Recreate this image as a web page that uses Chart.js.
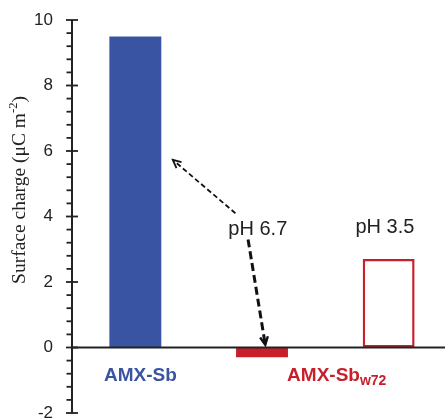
<!DOCTYPE html>
<html>
<head>
<meta charset="utf-8">
<script src="https://cdn.jsdelivr.net/npm/chart.js"></script>
<style>
html,body{margin:0;padding:0;background:#fff;overflow:hidden;}
#wrap{width:445px;height:419px;overflow:hidden;}
</style>
</head>
<body>
<div id="wrap"><canvas id="c" width="452" height="419"></canvas></div>
<script>
// ---- data ----
const categories = ['AMX-Sb', 'AMX-Sb_w72 (pH 6.7)', 'AMX-Sb_w72 (pH 3.5)'];
const values = [9.5, -0.3, 2.7];
const yTickValues = [-2, 0, 2, 4, 6, 8, 10];
const yMin = -2, yMax = 10, yStep = 2, yMinorStep = 0.4;
const yTitle = ['Surface charge (\u03bcC m', '-2', ')'];
const groupLabels = [
  {text: 'AMX-Sb', sub: '', at: 0.04},
  {text: 'AMX-Sb', sub: 'w72', at: 1.59}
];
const phLabels = [
  {text: 'pH 6.7', x: 0.967, y: 3.6},
  {text: 'pH 3.5', x: 1.97, y: 3.65}
];
// arrows: [x0, y0, x1, y1] in (category index, value) space
const arrows = [
  {from: [0.79, 4.1], to: [0.296, 5.73], w: 1.8, dash: [5, 3]},
  {from: [0.89, 3.3], to: [1.026, 0.08], w: 3, dash: [8, 4]}
];

const BLUE = '#3a54a4', RED = '#c8202b', INK = '#222';

const overlay = {
  id: 'overlay',
  afterDatasetsDraw(chart) {
    const ctx = chart.ctx, ya = chart.scales.y, xa = chart.scales.x;
    const ca = chart.chartArea;
    const axX = ca.left;
    ctx.save();
    // zero line
    const y0 = ya.getPixelForValue(0);
    ctx.strokeStyle = INK; ctx.lineWidth = 2;
    ctx.beginPath(); ctx.moveTo(axX, y0); ctx.lineTo(chart.width, y0); ctx.stroke();
    // y axis line
    ctx.beginPath(); ctx.moveTo(axX, ya.getPixelForValue(yMax)); ctx.lineTo(axX, ya.getPixelForValue(yMin)); ctx.stroke();
    // ticks
    ctx.lineWidth = 1.8;
    const n = Math.round((yMax - yMin) / yMinorStep);
    for (let i = 0; i <= n; i++) {
      const v = yMin + i * yMinorStep;
      const p = ya.getPixelForValue(v);
      const major = Math.abs(v / yStep - Math.round(v / yStep)) < 1e-6;
      ctx.beginPath();
      if (major) { ctx.moveTo(axX - 6, p); ctx.lineTo(axX + 6, p); }
      else { ctx.moveTo(axX - 5.5, p); ctx.lineTo(axX, p); }
      ctx.stroke();
    }
    // y title
    ctx.save();
    ctx.translate(20, 190);
    ctx.rotate(-Math.PI / 2);
    ctx.fillStyle = INK;
    ctx.textBaseline = 'middle';
    const f1 = '19.5px "Liberation Serif", "Times New Roman", serif';
    const f2 = '12.5px "Liberation Serif", "Times New Roman", serif';
    ctx.font = f1; const w1 = ctx.measureText(yTitle[0]).width;
    ctx.font = f2; const w2 = ctx.measureText(yTitle[1]).width;
    ctx.font = f1; const w3 = ctx.measureText(yTitle[2]).width;
    let sx = -(w1 + w2 + w3) / 2;
    ctx.textAlign = 'left';
    ctx.font = f1; ctx.fillText(yTitle[0], sx, 0);
    ctx.font = f2; ctx.fillText(yTitle[1], sx + w1, -6);
    ctx.font = f1; ctx.fillText(yTitle[2], sx + w1 + w2, 0);
    ctx.restore();
    // group labels
    const gy = y0 + 28;
    groupLabels.forEach((g, i) => {
      const cx = xa.getPixelForValue(g.at);
      const fm = 'bold 19px "Liberation Sans", Arial, sans-serif';
      const fs = 'bold 14px "Liberation Sans", Arial, sans-serif';
      ctx.font = fm; const wm = ctx.measureText(g.text).width;
      ctx.font = fs; const ws = g.sub ? ctx.measureText(g.sub).width : 0;
      const left = cx - (wm + ws) / 2;
      ctx.fillStyle = i === 0 ? BLUE : RED;
      ctx.textAlign = 'left'; ctx.textBaseline = 'middle';
      ctx.font = fm; ctx.fillText(g.text, left, gy);
      if (g.sub) { ctx.font = fs; ctx.fillText(g.sub, left + wm, gy + 6); }
    });
    // pH labels
    ctx.fillStyle = INK;
    ctx.font = '20px "Liberation Sans", Arial, sans-serif';
    ctx.textAlign = 'center'; ctx.textBaseline = 'middle';
    phLabels.forEach(l => ctx.fillText(l.text, xa.getPixelForValue(l.x), ya.getPixelForValue(l.y)));
    // arrows
    ctx.strokeStyle = '#111';
    arrows.forEach(a => {
      const x0 = xa.getPixelForValue(a.from[0]), yy0 = ya.getPixelForValue(a.from[1]);
      const x1 = xa.getPixelForValue(a.to[0]), yy1 = ya.getPixelForValue(a.to[1]);
      ctx.lineWidth = a.w;
      ctx.setLineDash(a.dash);
      ctx.beginPath(); ctx.moveTo(x0, yy0); ctx.lineTo(x1, yy1); ctx.stroke();
      ctx.setLineDash([]);
      const ang = Math.atan2(yy1 - yy0, x1 - x0);
      const L = 9, s = 0.45;
      ctx.lineWidth = Math.max(1.8, a.w * 0.8);
      ctx.beginPath();
      ctx.moveTo(x1 - L * Math.cos(ang - s), yy1 - L * Math.sin(ang - s));
      ctx.lineTo(x1, yy1);
      ctx.lineTo(x1 - L * Math.cos(ang + s), yy1 - L * Math.sin(ang + s));
      ctx.stroke();
    });
    ctx.restore();
  }
};

new Chart(document.getElementById('c'), {
  type: 'bar',
  data: {
    labels: categories,
    datasets: [{
      data: values,
      backgroundColor: [BLUE, RED, '#ffffff'],
      borderColor: [BLUE, RED, RED],
      borderWidth: [0, 0, 2.5],
      borderSkipped: false,
      barPercentage: 0.41,
      categoryPercentage: 1
    }]
  },
  options: {
    responsive: false,
    animation: false,
    events: [],
    layout: {padding: {top: 20, bottom: 6, left: 0, right: 0}},
    plugins: {legend: {display: false}, tooltip: {enabled: false}, title: {display: false}},
    scales: {
      x: {display: false},
      y: {
        min: yMin, max: yMax,
        afterBuildTicks(s) { s.ticks = yTickValues.map(v => ({value: v})); },
        afterFit(s) { s.width = 72; s.paddingTop = 0; s.paddingBottom = 0; },
        border: {display: false},
        grid: {display: false, drawTicks: false},
        ticks: {
          padding: 19,
          color: INK,
          font: {family: '"Liberation Sans", Arial, sans-serif', size: 17}
        }
      }
    }
  },
  plugins: [overlay]
});
</script>
</body>
</html>
